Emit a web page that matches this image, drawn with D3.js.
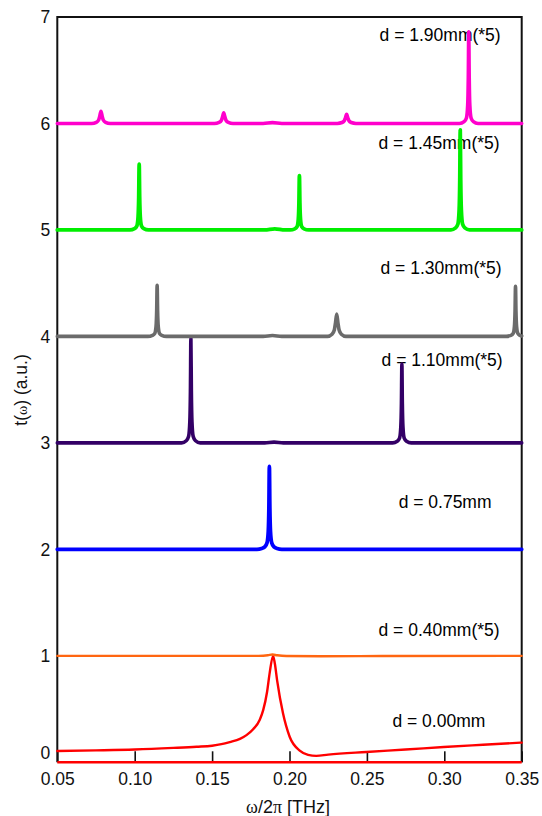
<!DOCTYPE html>
<html>
<head>
<meta charset="utf-8">
<script src="https://cdn.jsdelivr.net/npm/d3@7"></script>
<style>
  html, body { margin: 0; padding: 0; background: #fff; }
  svg { display: block; font-family: Arial, "Liberation Sans", Helvetica, sans-serif; }
</style>
</head>
<body>
<svg id="chart" width="542" height="816"></svg>
<script>
// Transmission spectra t(ω) for increasing gap thickness d, stacked with unit offsets.
const xTicks = [0.05, 0.10, 0.15, 0.20, 0.25, 0.30, 0.35];
const yTicks = [0, 1, 2, 3, 4, 5, 6, 7];

const seriesNames = ["d = 0.00mm", "d = 0.40mm(*5)", "d = 0.75mm", "d = 1.10mm(*5)",
                     "d = 1.30mm(*5)", "d = 1.45mm(*5)", "d = 1.90mm(*5)"];

// [frequency (THz), t(ω) + offset]
const d000 = [[0.05,0.106],[0.075,0.112],[0.10,0.12],[0.125,0.135],[0.14,0.146],[0.15,0.156],
  [0.156,0.17],[0.1614,0.19],[0.168,0.22],[0.1722,0.255],[0.1765,0.31],[0.1808,0.40],[0.183,0.49],
  [0.1855,0.66],[0.1872,0.84],[0.1894,1.0],[0.1905,0.93],[0.192,0.77],[0.1958,0.46],[0.2001,0.24],
  [0.2066,0.11],[0.212,0.07],[0.2173,0.06],[0.225,0.072],[0.2496,0.097],[0.275,0.12],
  [0.2997,0.144],[0.325,0.165],[0.35,0.185]];

const d040 = [[0.05,1.0],[0.18,1.0],[0.186,1.005],[0.189,1.012],[0.192,1.005],[0.198,0.998],
  [0.22,0.996],[0.26,0.998],[0.35,1.0]];

const d075 = [[0.05,2.0],[0.179,2.0],[0.182,2.008],[0.184,2.023],[0.1855,2.062],[0.1863,2.17],
  [0.1867,2.39],[0.1870,2.78],[0.1873,2.39],[0.1877,2.17],[0.1885,2.062],[0.190,2.023],
  [0.192,2.008],[0.195,2.0],[0.35,2.0]];

const d110 = [[0.05,3.0],[0.1303,3.0],[0.1333,3.020],[0.1348,3.059],[0.1356,3.196],[0.1360,3.49],
  [0.1363,3.98],[0.1366,3.49],[0.1370,3.196],[0.1378,3.059],[0.1393,3.020],[0.1423,3.0],
  [0.184,3.0],[0.190,3.007],[0.196,3.0],
  [0.2666,3.0],[0.2696,3.015],[0.2711,3.044],[0.2719,3.148],[0.2723,3.37],[0.2726,3.74],
  [0.2729,3.37],[0.2733,3.148],[0.2741,3.044],[0.2756,3.015],[0.2786,3.0],[0.35,3.0]];

const d130 = [[0.05,4.0],[0.1085,4.0],[0.1115,4.010],[0.1130,4.029],[0.1138,4.096],[0.1142,4.24],
  [0.1145,4.48],[0.1148,4.24],[0.1152,4.096],[0.1160,4.029],[0.1175,4.010],[0.1205,4.0],
  [0.183,4.0],[0.189,4.008],[0.195,4.0],
  [0.2245,4.0],[0.2275,4.021],[0.2290,4.063],[0.2297,4.126],[0.2305,4.21],[0.2313,4.126],
  [0.2320,4.063],[0.2335,4.021],[0.2365,4.0],
  [0.340,4.0],[0.343,4.009],[0.3445,4.028],[0.3453,4.094],[0.3457,4.235],[0.3460,4.47],
  [0.3463,4.235],[0.3467,4.094],[0.3475,4.028],[0.349,4.009],[0.35,4.004]];

const d145 = [[0.05,5.0],[0.0969,5.0],[0.0999,5.012],[0.1014,5.037],[0.1022,5.123],[0.1026,5.308],
  [0.1029,5.617],[0.1032,5.308],[0.1036,5.123],[0.1044,5.037],[0.1059,5.012],[0.1089,5.0],
  [0.184,5.0],[0.1905,5.01],[0.197,5.0],
  [0.2004,5.0],[0.2034,5.010],[0.2049,5.031],[0.2057,5.102],[0.2061,5.255],[0.2064,5.51],
  [0.2067,5.255],[0.2071,5.102],[0.2079,5.031],[0.2094,5.010],[0.2124,5.0],
  [0.3043,5.0],[0.3073,5.019],[0.3088,5.056],[0.3096,5.188],[0.3100,5.47],[0.3103,5.94],
  [0.3106,5.47],[0.3110,5.188],[0.3118,5.056],[0.3133,5.019],[0.3163,5.0],[0.35,5.0]];

const d190 = [[0.05,6.0],[0.0722,6.0],[0.0752,6.011],[0.0767,6.033],[0.0774,6.066],[0.0782,6.115],
  [0.0790,6.066],[0.0797,6.033],[0.0812,6.011],[0.0842,6.0],
  [0.1515,6.0],[0.1545,6.010],[0.1560,6.030],[0.1567,6.060],[0.1575,6.100],[0.1583,6.060],
  [0.1590,6.030],[0.1605,6.010],[0.1635,6.0],
  [0.183,6.0],[0.189,6.008],[0.195,6.0],
  [0.2309,6.0],[0.2339,6.009],[0.2354,6.026],[0.2361,6.051],[0.2369,6.085],[0.2377,6.051],
  [0.2384,6.026],[0.2399,6.009],[0.2429,6.0],
  [0.3098,6.0],[0.3128,6.017],[0.3143,6.052],[0.3151,6.17],[0.3155,6.43],[0.3158,6.86],
  [0.3161,6.43],[0.3165,6.17],[0.3173,6.052],[0.3188,6.017],[0.3218,6.0],[0.35,6.0]];

// Where each curve's label sits, in (THz, t) units
const labelAnchors = [[0.2665,0.388],[0.2575,1.243],[0.2705,2.445],[0.2595,3.779],
                      [0.2588,4.643],[0.2575,5.817],[0.2582,6.831]];

const seriesData = [d000, d040, d075, d110, d130, d145, d190];
const colors = ["#ff0000", "#ff6611", "#0000ff", "#330066", "#6b6b6b", "#00ee00", "#ff00cc"];
const widths = [2.4, 2.4, 3.8, 3.6, 3.6, 3.8, 3.6];

const svg = d3.select("#chart");
const x = d3.scaleLinear().domain([0.05, 0.35]).range([57.3, 521.7]);
const y = d3.scaleLinear().domain([0, 7]).range([762.3, 17]);
const sansFont = "Arial, 'Liberation Sans', sans-serif";
const serifFont = "'Liberation Serif', 'DejaVu Serif', serif";

// curve labels (drawn beneath the curves)
svg.append("g").selectAll("text")
  .data(seriesNames)
  .join("text")
  .attr("x", (d, i) => x(labelAnchors[i][0]))
  .attr("y", (d, i) => y(labelAnchors[i][1]))
  .attr("dy", "0.36em")
  .attr("font-size", 17.5)
  .attr("fill", "#000")
  .text(d => d);

// frame: left, top, right
svg.append("path")
  .attr("d", `M${x(0.05)},${y(0)}V${y(7)}H${x(0.35)}V${y(0)}`)
  .attr("fill", "none").attr("stroke", "#111").attr("stroke-width", 2);

// bottom axis, ticks pointing inward
const xAxis = svg.append("g")
  .attr("transform", `translate(0,${y(0)})`)
  .call(d3.axisBottom(x).tickValues(xTicks).tickFormat(d3.format(".2f")).tickSizeInner(-11).tickSizeOuter(0).tickPadding(10));
xAxis.select(".domain").remove();
xAxis.selectAll(".tick line").attr("stroke", "#111").attr("stroke-width", 1.6);
xAxis.selectAll(".tick text").attr("font-size", 17.5).attr("fill", "#111").attr("font-family", sansFont);

// left axis labels, no tick marks
const yAxis = svg.append("g")
  .attr("transform", `translate(${x(0.05)},0)`)
  .call(d3.axisLeft(y).tickValues(yTicks).tickFormat(d3.format("d")).tickSize(0).tickPadding(7));
yAxis.select(".domain").remove();
yAxis.selectAll(".tick text").attr("font-size", 17.5).attr("fill", "#111").attr("font-family", sansFont)
  .attr("dy", d => d === 0 ? "-0.2em" : "0.34em");

// curves
const line = d3.line().x(d => x(d[0])).y(d => y(d[1])).curve(d3.curveMonotoneX);
svg.append("g").selectAll("path")
  .data(seriesData)
  .join("path")
  .attr("d", line)
  .attr("fill", "none")
  .attr("stroke", (d, i) => colors[i])
  .attr("stroke-width", (d, i) => widths[i])
  .attr("stroke-linejoin", "round")
  .attr("stroke-linecap", "round");

// bottom edge at t = 0
svg.append("line")
  .attr("x1", x(0.05)).attr("x2", x(0.35)).attr("y1", y(0)).attr("y2", y(0))
  .attr("stroke", "#ff0000").attr("stroke-width", 2.4);

// axis titles
const xt = svg.append("text")
  .attr("x", 288).attr("y", 813)
  .attr("text-anchor", "middle").attr("font-size", 18).attr("fill", "#111");
xt.append("tspan").attr("font-family", serifFont).text("ω");
xt.append("tspan").text("/2");
xt.append("tspan").attr("font-family", serifFont).text("π");
xt.append("tspan").text(" [THz]");

const yt = svg.append("text")
  .attr("transform", "translate(27,390) rotate(-90)")
  .attr("text-anchor", "middle").attr("font-size", 17.5).attr("fill", "#111");
yt.append("tspan").text("t(");
yt.append("tspan").attr("font-family", serifFont).attr("font-size", 14).text("ω");
yt.append("tspan").text(") (a.u.)");
</script>
</body>
</html>
